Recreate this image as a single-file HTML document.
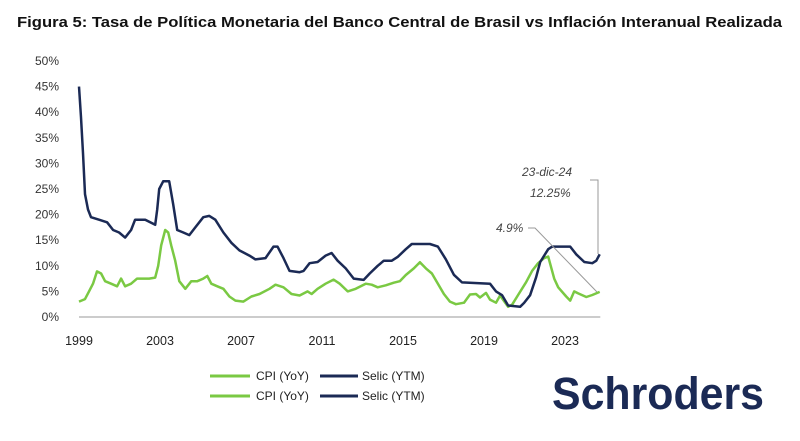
<!DOCTYPE html>
<html><head><meta charset="utf-8"><style>
body{margin:0;background:#fff;width:800px;height:436px;overflow:hidden;font-family:"Liberation Sans",sans-serif}
</style></head><body>
<svg id="c" width="800" height="436" xmlns="http://www.w3.org/2000/svg">
<text x="17" y="27" font-size="14.5" font-weight="bold" fill="#111" textLength="765" lengthAdjust="spacingAndGlyphs">Figura 5: Tasa de Política Monetaria del Banco Central de Brasil vs Inflación Interanual Realizada</text>
<g id="axes"></g><g id="series"></g>
<g font-style="italic" font-size="12" fill="#444">
<text x="522" y="176">23-dic-24</text>
<text x="530" y="197">12.25%</text>
<text x="496" y="232">4.9%</text>
<polyline points="590,180 598,180 598,254" fill="none" stroke="#999" stroke-width="1"/>
<polyline points="528,228 535,228 597,292" fill="none" stroke="#999" stroke-width="1"/>
</g>
<g font-size="12" fill="#222">
<line x1="210" y1="376" x2="250" y2="376" stroke="#7ac943" stroke-width="3"/><text x="256" y="380">CPI (YoY)</text>
<line x1="320" y1="376" x2="358" y2="376" stroke="#1b2a55" stroke-width="3"/><text x="362" y="380">Selic (YTM)</text>
<line x1="210" y1="396" x2="250" y2="396" stroke="#7ac943" stroke-width="3"/><text x="256" y="400">CPI (YoY)</text>
<line x1="320" y1="396" x2="358" y2="396" stroke="#1b2a55" stroke-width="3"/><text x="362" y="400">Selic (YTM)</text>
</g>
<text x="552" y="409" font-size="45" font-weight="bold" fill="#1b2a55" textLength="212" lengthAdjust="spacingAndGlyphs">Schroders</text>
</svg>
<script>
const yTicks=[0,5,10,15,20,25,30,35,40,45,50];
const xTicks=[1999,2003,2007,2011,2015,2019,2023];
const selicT=[1999.0,1999.1,1999.2,1999.3,1999.45,1999.6,2000.0,2000.4,2000.7,2001.0,2001.3,2001.6,2001.8,2002.3,2002.8,2002.9,2003.0,2003.2,2003.5,2003.7,2003.9,2004.2,2004.5,2004.8,2005.2,2005.5,2005.8,2006.2,2006.6,2007.0,2007.5,2007.8,2008.3,2008.7,2008.9,2009.2,2009.5,2010.0,2010.2,2010.5,2010.9,2011.3,2011.6,2011.9,2012.3,2012.7,2013.2,2013.5,2013.9,2014.2,2014.6,2014.9,2015.3,2015.6,2016.5,2016.9,2017.3,2017.7,2018.1,2019.5,2019.8,2020.1,2020.4,2021.0,2021.2,2021.5,2021.8,2022.0,2022.4,2022.6,2023.5,2023.8,2024.2,2024.6,2024.8,2024.97];
const selicV=[45,39,32,24,21,19.5,19,18.5,17,16.5,15.5,17,19,19,18,21,25,26.5,26.5,22,17,16.5,16,17.5,19.5,19.75,19,16.5,14.5,13,12,11.25,11.5,13.75,13.75,11.5,9,8.75,9,10.5,10.75,12,12.5,11,9.5,7.5,7.25,8.5,10,11,11,11.75,13.25,14.25,14.25,13.75,11.25,8.25,6.75,6.5,5,4.25,2.25,2,2.75,4.25,7.75,10.75,13.25,13.75,13.75,12.25,10.75,10.5,11,12.25];
const cpiT=[1999.0,1999.3,1999.5,1999.7,1999.9,2000.1,2000.3,2000.6,2000.9,2001.1,2001.3,2001.6,2001.9,2002.2,2002.5,2002.8,2002.95,2003.1,2003.3,2003.45,2003.6,2003.8,2004.0,2004.3,2004.6,2004.9,2005.2,2005.4,2005.6,2005.9,2006.2,2006.5,2006.8,2007.2,2007.6,2008.0,2008.5,2008.8,2009.2,2009.6,2010.0,2010.4,2010.6,2010.9,2011.3,2011.7,2012.0,2012.4,2012.8,2013.3,2013.6,2013.9,2014.3,2014.7,2015.0,2015.3,2015.7,2016.0,2016.3,2016.6,2016.9,2017.2,2017.5,2017.8,2018.2,2018.5,2018.8,2019.0,2019.3,2019.5,2019.8,2020.0,2020.4,2020.6,2020.9,2021.3,2021.6,2021.9,2022.2,2022.4,2022.7,2022.9,2023.3,2023.5,2023.7,2023.9,2024.3,2024.6,2024.97];
const cpiV=[3,3.5,5,6.5,8.9,8.5,7,6.5,6,7.5,6,6.5,7.5,7.5,7.5,7.7,10,14,17,16.5,14,11,7,5.5,7,7,7.5,8,6.5,6,5.5,4,3.2,3,4,4.5,5.5,6.3,5.8,4.5,4.2,5,4.5,5.5,6.5,7.3,6.5,5,5.5,6.5,6.3,5.8,6.2,6.7,7,8.2,9.5,10.7,9.5,8.5,6.5,4.5,3,2.5,2.8,4.4,4.5,3.8,4.7,3.4,2.8,4.2,2,2.4,4.3,6.8,9,10.5,11.5,11.8,7.5,5.8,4,3.2,5,4.6,3.9,4.3,4.9];
const NS="http://www.w3.org/2000/svg";
const X=t=>79+(t-1999)*20.05, Y=v=>317-v*5.12;
const ax=document.getElementById('axes'), se=document.getElementById('series');
function mk(tag,at,p){const e=document.createElementNS(NS,tag);for(const k in at)e.setAttribute(k,at[k]);p.appendChild(e);return e;}
const base=mk('line',{x1:X(1999),x2:X(2025),y1:Y(0),y2:Y(0),stroke:'#bbb','stroke-width':1.5},ax);


yTicks.forEach(v=>{const t=mk('text',{x:59,y:Y(v)+4,'font-size':12,'text-anchor':'end',fill:'#333'},ax);t.textContent=v+'%';

});
xTicks.forEach(v=>{const t=mk('text',{x:X(v)+(v-1999)*0.2,y:345,'font-size':12.5,'text-anchor':'middle',fill:'#222'},ax);t.textContent=v;

});
function line(T,V,col,name){const p=mk('polyline',{points:T.map((t,i)=>X(t).toFixed(1)+','+Y(V[i]).toFixed(1)).join(' '),fill:'none',stroke:col,'stroke-width':2.5,'stroke-linejoin':'round'},se);

}
line(cpiT,cpiV,'#7ac943','cpi-line');
line(selicT,selicV,'#1b2a55','selic-line');
</script>
</body></html>
